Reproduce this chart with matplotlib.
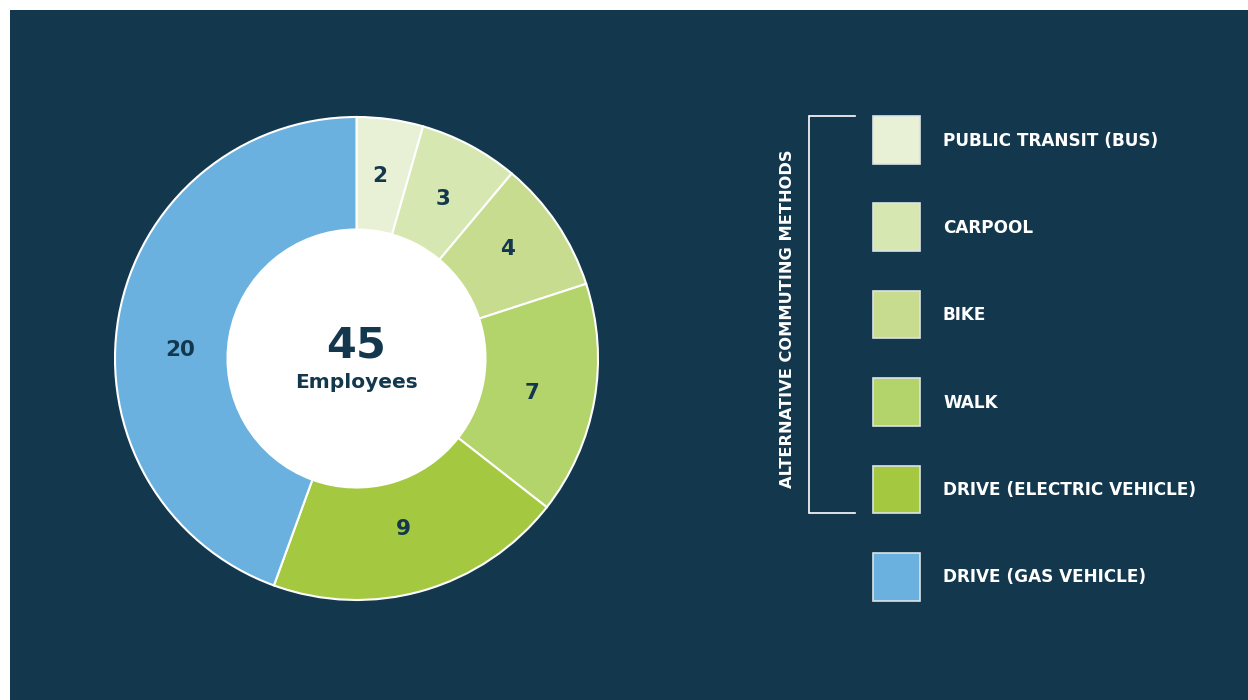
import matplotlib
matplotlib.use("Agg")
import matplotlib.pyplot as plt
from matplotlib.patches import Rectangle
import numpy as np

categories = ["PUBLIC TRANSIT (BUS)", "CARPOOL", "BIKE", "WALK",
              "DRIVE (ELECTRIC VEHICLE)", "DRIVE (GAS VEHICLE)"]
values = [2, 3, 4, 7, 9, 20]
colors = ["#E8F1D6", "#D7E7B1", "#C7DC8F", "#B3D36B", "#A4C941", "#6AB1E0"]
center_number = "45"
center_label = "Employees"
bracket_label = "ALTERNATIVE COMMUTING METHODS"

# small angular/radial nudges for value labels, layout only
label_nudge = [0.6, -0.5, 2, -1.2, -0.5, 7.3]
label_radius = [184, 182, 187, 179, 177, 177]

BG = "#13384E"
W, H = 1248, 700
fig = plt.figure(figsize=(W / 100, H / 100), dpi=100)
fig.patch.set_facecolor("white")
ax = fig.add_axes([0, 0, 1, 1])
ax.set_axis_off()

def Y(py):
    return H - py

# background panel
ax.add_patch(Rectangle((10, 0), W - 10, H - 10, facecolor=BG, edgecolor="none", zorder=0))

cx, cy, R, r = 356.5, Y(358.5), 241.5, 129
wedges, _ = ax.pie(values, colors=colors, startangle=90, counterclock=False,
                   center=(cx, cy), radius=R,
                   wedgeprops=dict(width=R - r, edgecolor="white", linewidth=1.5))
for w in wedges:
    w.set_zorder(2)
ax.add_patch(plt.Circle((cx, cy), r, facecolor="white", edgecolor="none", zorder=3))

total = sum(values)
ang = 90.0
for v, nud, lr in zip(values, label_nudge, label_radius):
    a = ang - v / total * 360 / 2 + nud
    ang -= v / total * 360
    x = cx + lr * np.cos(np.radians(a))
    y = cy + lr * np.sin(np.radians(a)) + 2
    ax.text(x, y, str(v), ha="center", va="center_baseline", fontsize=15.5, fontweight="bold",
            color=BG, family="DejaVu Sans", zorder=4)

ax.text(cx, Y(341), center_number, ha="center", va="center_baseline", fontsize=31,
        fontweight="bold", color=BG, family="DejaVu Sans", zorder=4)
ax.text(cx, Y(382), center_label, ha="center", va="center", fontsize=14.5,
        fontweight="bold", color=BG, family="DejaVu Sans", zorder=4)

# legend
top0 = 116
step = 87.4
for i, (lab, col) in enumerate(zip(categories, colors)):
    t = top0 + i * step
    ax.add_patch(Rectangle((872.5, Y(t + 47.5)), 47.5, 47.5, facecolor=col,
                           edgecolor="#DDE3E6", linewidth=1.2, zorder=2))
    ax.text(943, Y(t + 22.5), lab, ha="left", va="center_baseline", fontsize=12.2,
            fontweight="bold", color="white", family="DejaVu Sans", zorder=4)

# bracket
ax.plot([855, 809, 809, 855], [Y(116), Y(116), Y(513), Y(513)], color="white",
        linewidth=1.2, zorder=2, solid_joinstyle="miter")
ax.text(787, Y(319), bracket_label, rotation=90, ha="center", va="center",
        fontsize=11.7, fontweight="bold", color="white", family="DejaVu Sans", zorder=4)

ax.set_xlim(0, W)
ax.set_ylim(0, H)
ax.set_aspect("auto")
fig.savefig("out.png", dpi=100, facecolor="white")
